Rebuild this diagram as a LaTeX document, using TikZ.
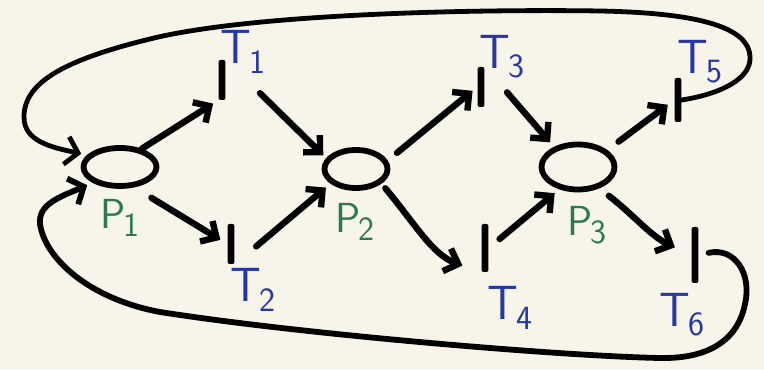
\documentclass[tikz,border=0pt]{standalone}
\usetikzlibrary{arrows.meta,shapes.geometric}
\definecolor{paper}{RGB}{247,245,233}
\definecolor{penblue}{RGB}{38,56,168}
\definecolor{pengreen}{RGB}{46,120,82}
\newcommand{\lbl}[2]{#1\kern-0.04em\raisebox{-0.45ex}{\fontsize{17}{17}\selectfont #2}}

\begin{document}
\begin{tikzpicture}[x=0.5pt,y=0.5pt,
	place/.style={ellipse,draw,line width=2.9pt,inner sep=0pt,minimum width=36.5pt,minimum height=19pt},
	trans/.style={fill,inner sep=0pt,minimum width=3.4pt,minimum height=20pt,rounded corners=1pt},
	flow/.style={line width=3.2pt,line cap=round,-{Straight Barb[length=6pt,width=12pt]}},
	feedback/.style={line width=2.4pt,line cap=round,-{Straight Barb[length=6pt,width=14pt]}},
	tlab/.style={text=penblue,font=\sffamily\fontsize{24}{24}\selectfont},
	plab/.style={text=pengreen,font=\sffamily\fontsize{21}{21}\selectfont}]
	% fons
	\fill[paper] (0,0) rectangle (764,369);
	\useasboundingbox (0,0) rectangle (764,369);

	% llocs
	\node[place] (p1) at (120,202) {};
	\node[place,minimum width=31.5pt] (p2) at (356,200) {};
	\node[place,minimum height=22.5pt] (p3) at (578,202) {};

	% transicions
	\node[trans] (t1) at (222,289) {};
	\node[trans] (t2) at (231,125) {};
	\node[trans] (t3) at (481,282) {};
	\node[trans,minimum height=24pt] (t4) at (485,121) {};
	\node[trans,minimum height=22pt] (t5) at (678,269) {};
	\node[trans,minimum height=28pt] (t6) at (695,114) {};

	% etiquetes
	\node[tlab] (lt1) at (243,317) {\lbl{T}{1}};
	\node[tlab] (lt2) at (253,79) {\lbl{T}{2}};
	\node[tlab] (lt3) at (502,312) {\lbl{T}{3}};
	\node[tlab] (lt4) at (510,61) {\lbl{T}{4}};
	\node[tlab] (lt5) at (700,307) {\lbl{T}{5}};
	\node[tlab] (lt6) at (682,54) {\lbl{T}{6}};
	\node[plab] (lp1) at (120,151) {\lbl{P}{1}};
	\node[plab] (lp2) at (355,147) {\lbl{P}{2}};
	\node[plab] (lp3) at (587,144) {\lbl{P}{3}};

	% arcs rectes
	\foreach \a/\b/\sa/\sb in {p1.40/t1.south west/0pt/3pt, t1.north east/p2.160/24pt/2pt,
		p1.-55/t2.west/10pt/4pt, t2.south east/p2.-150/14pt/3pt,
		p2.15/t3.west/6pt/3pt, t3.north east/p3.140/17pt/3pt,
		t4.east/p3.-130/7pt/3pt, p3.30/t5.west/7pt/4pt} {
		\draw[flow,shorten <=\sa,shorten >=\sb] (\a) -- (\b);
	}
	% arcs corbats
	\draw[flow,shorten <=3pt,shorten >=10pt] (p2.-30) to[out=-50,in=160] (t4.south west);
	\draw[flow,shorten <=6pt,shorten >=9pt] (p3.-45) to[out=-38,in=155] (t6.west);

	% retorns cap a P1
	\draw[feedback,shorten >=3pt] (t5.east) .. controls (720,275) and (752,290) .. (750,313)
		.. controls (748,340) and (705,356) .. (600,358)
		.. controls (470,360) and (250,355) .. (150,330)
		.. controls (60,308) and (24,285) .. (24,252)
		.. controls (24,228) and (50,222) .. (p1.160);
	\draw[feedback,line width=2.9pt,shorten <=5pt,shorten >=3pt] (t6.east) .. controls (735,122) and (752,95) .. (745,65)
		.. controls (738,30) and (710,10) .. (660,11)
		.. controls (560,13) and (300,35) .. (160,57)
		.. controls (90,70) and (45,110) .. (40,145)
		.. controls (38,165) and (60,172) .. (p1.-150);
\end{tikzpicture}
\end{document}
